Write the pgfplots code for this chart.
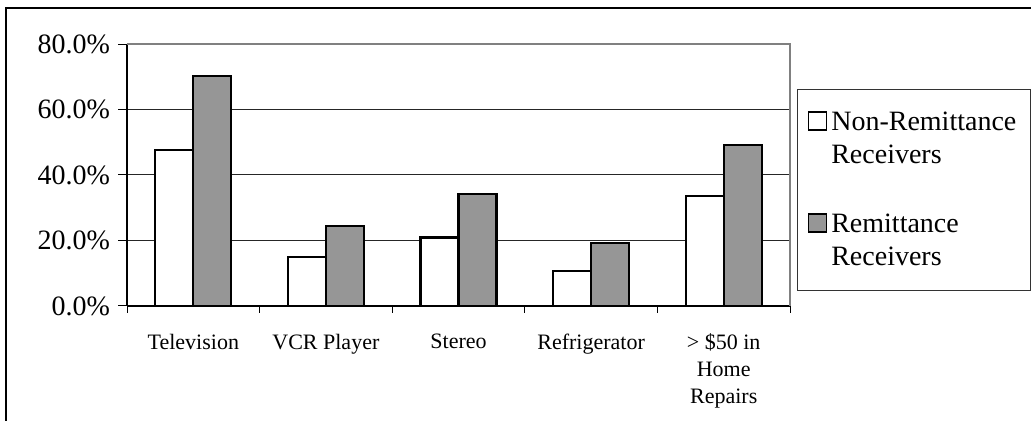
\documentclass[border=0pt]{standalone}
\usepackage{pgfplots}
\pgfplotsset{compat=1.18}
\usepackage{fontspec}
\setmainfont{Liberation Serif}
\definecolor{barGray}{RGB}{150,150,150}
\definecolor{frameGray}{RGB}{128,128,128}
\begin{document}
\begin{tikzpicture}
\useasboundingbox (0,0) rectangle (515.5pt,210.5pt);
% outer chart frame
\draw[line width=0.8pt] (3pt,-5pt) -- (3pt,206.5pt) -- (520pt,206.5pt);
\begin{axis}[
  at={(63.5pt,57.5pt)}, anchor=south west,
  scale only axis, width=331.5pt, height=131pt,
  ybar=0pt, bar width=19pt,
  xmin=-0.5, xmax=4.5, ymin=0, ymax=80,
  axis lines=left, axis line style={-, black, line width=0.6pt},
  tick align=outside,
  xtick={0,...,4},
  xtick style={draw=none},
  xticklabels={Television,VCR Player,Stereo,Refrigerator,{> \$50 in\\Home\\Repairs}},
  xticklabel style={font=\fontsize{11}{13.5}\selectfont, align=center, yshift=-6pt},
  extra x ticks={-0.5,0.5,...,4.5},
  extra x tick labels={},
  extra x tick style={xtick style={draw=black, line width=0.5pt}, major tick length=3.5pt},
  ytick={0,20,...,80},
  ytick style={draw=black, line width=0.5pt},
  major tick length=4.5pt,
  yticklabel={\pgfmathprintnumber[assume math mode=true,fixed,fixed zerofill,precision=1]{\tick}\%},
  yticklabel style={font=\fontsize{14}{16}\selectfont, xshift=-0.5pt},
  ymajorgrids, grid style={black!85, line width=0.5pt},
  legend style={at={(1,1)}, anchor=north west, xshift=3.5pt, yshift=-22.5pt,
    draw=black!80, line width=0.5pt,
    font=\fontsize{14}{16.5}\selectfont,
    cells={align=left}, row sep=20pt, inner xsep=5pt, inner ysep=9pt},
  legend cell align=left,
  legend image code/.code={\draw[#1, line width=0.9pt] (0pt,4.5pt) rectangle (9pt,13.5pt);},
  clip=false,
]
\addplot[draw=black, line width=1.1pt, fill=white] coordinates {(0,47.6) (1,14.9) (2,20.9) (3,10.7) (4,33.6)};
\addplot[draw=black, line width=1.1pt, fill=barGray] coordinates {(0,70.2) (1,24.5) (2,34.1) (3,19.2) (4,49.1)};
\legend{{Non-Remittance\\Receivers},{Remittance\\Receivers}}
% gray top and right plot-area borders
\draw[frameGray, line width=0.8pt] (rel axis cs:0,1) -- (rel axis cs:1,1) -- (rel axis cs:1,0);
\end{axis}
\end{tikzpicture}
\end{document}
